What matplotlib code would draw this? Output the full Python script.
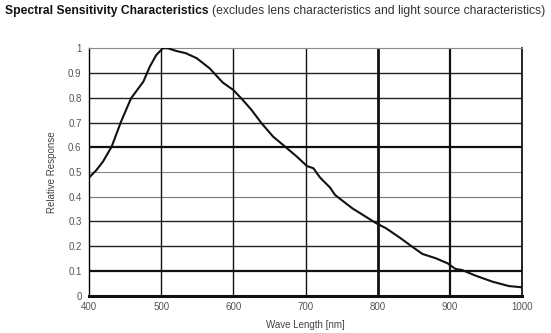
import matplotlib
matplotlib.use("Agg")
import matplotlib.pyplot as plt

plt.rcParams['font.family'] = ['Liberation Sans', 'DejaVu Sans']

wavelength = [401, 410, 419, 431, 444, 458, 475, 484, 493, 502, 509, 521, 534, 549,
              567, 585, 600, 613, 625, 639, 655, 669, 688, 702, 711, 720, 734, 741,
              765, 798, 812, 832, 848, 862, 881, 897, 908, 917, 936, 959, 982, 1000]
response = [0.481, 0.508, 0.542, 0.602, 0.703, 0.798, 0.865, 0.926, 0.973, 1.0, 1.0,
            0.989, 0.980, 0.960, 0.919, 0.862, 0.831, 0.791, 0.751, 0.697, 0.643,
            0.609, 0.562, 0.524, 0.515, 0.478, 0.437, 0.407, 0.353, 0.293, 0.272,
            0.232, 0.198, 0.169, 0.151, 0.131, 0.108, 0.104, 0.081, 0.057, 0.039, 0.034]

x_ticks = [400, 500, 600, 700, 800, 900, 1000]
y_ticks = [0, 0.1, 0.2, 0.3, 0.4, 0.5, 0.6, 0.7, 0.8, 0.9, 1]
y_tick_labels = ['0', '0.1', '0.2', '0.3', '0.4', '0.5', '0.6', '0.7', '0.8', '0.9', '1']

fig = plt.figure(figsize=(5.51, 3.33), dpi=100)
ax = fig.add_axes([0.162, 0.112, 0.785, 0.743])
ax.set_xlim(400, 1000)
ax.set_ylim(0, 1)

# horizontal grid
h_style = {0.1: (1.6, '#111111'), 0.2: (1.0, '#222222'), 0.3: (1.0, '#222222'),
           0.4: (0.8, '#777777'), 0.5: (0.8, '#888888'), 0.6: (1.6, '#111111'),
           0.7: (1.0, '#222222'), 0.8: (1.0, '#222222'), 0.9: (1.0, '#222222')}
for yv in y_ticks[1:-1]:
    lw, c = h_style[round(yv, 1)]
    ax.axhline(yv, color=c, lw=lw, zorder=1)
v_style = {500: (1.0, '#111111'), 600: (1.0, '#111111'), 700: (1.0, '#111111'),
           800: (2.0, '#111111'), 900: (1.6, '#111111')}
for xv in x_ticks[1:-1]:
    lw, c = v_style[xv]
    ax.axvline(xv, color=c, lw=lw, zorder=1)

ax.plot(wavelength, response, color='#111111', lw=1.5, zorder=3)

ax.spines['bottom'].set_linewidth(2.2)
ax.spines['bottom'].set_color('#111111')
ax.spines['left'].set_linewidth(1.0)
ax.spines['right'].set_linewidth(1.2)
ax.spines['top'].set_linewidth(0.8)
ax.spines['top'].set_color('#888888')

ax.set_xticks(x_ticks)
ax.set_xticklabels([str(v) for v in x_ticks])
ax.set_yticks(y_ticks)
ax.set_yticklabels(y_tick_labels)
ax.tick_params(length=0, labelsize=7, colors='#555555')
ax.tick_params(axis='y', pad=5.5)
ax.tick_params(axis='x', pad=4.5)

ax.set_xlabel('Wave Length [nm]', fontsize=7, color='#444444', labelpad=6)
ax.set_ylabel('Relative Response', fontsize=7, color='#444444', labelpad=8)

t1 = fig.text(0.009, 0.968, 'Spectral Sensitivity Characteristics', fontsize=8.7,
              fontweight='bold', va='center', ha='left', color='#111111')
fig.canvas.draw()
bb = t1.get_window_extent()
x_end = bb.x1 / fig.bbox.width
fig.text(x_end + 0.006, 0.968, '(excludes lens characteristics and light source characteristics)',
         fontsize=8.7, va='center', ha='left', color='#333333')

fig.savefig('out.png', dpi=100)
